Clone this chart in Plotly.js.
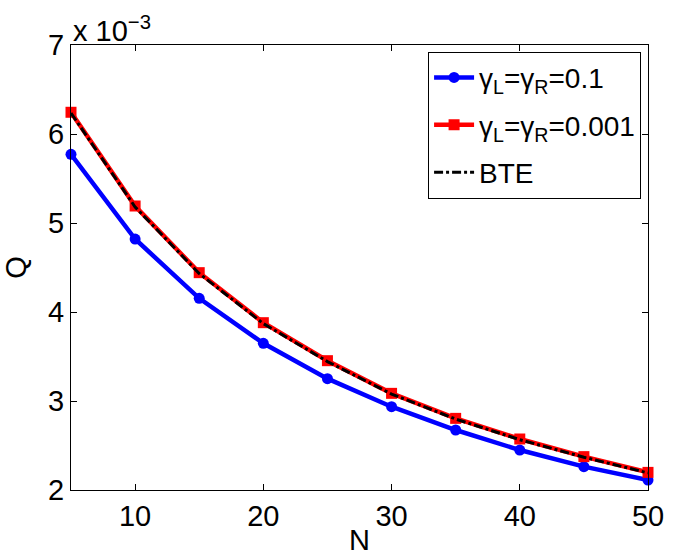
<!DOCTYPE html>
<html>
<head>
<meta charset="utf-8">
<script src="https://cdn.plot.ly/plotly-3.0.1.min.js"></script>
<style>body{margin:0;padding:0;background:#fff}#chart{width:688px;height:556px}</style>
</head>
<body>
<div id="chart"></div>
<script>
// N values
const N = [5, 10, 15, 20, 25, 30, 35, 40, 45, 50];
// Q values in units of 1e-3
const Q_gamma01 = [5.772, 4.820, 4.154, 3.648, 3.251, 2.936, 2.674, 2.449, 2.262, 2.112];
const Q_gamma0001 = [6.244, 5.191, 4.442, 3.880, 3.453, 3.086, 2.805, 2.573, 2.375, 2.198];
const Q_BTE = [6.235, 5.180, 4.432, 3.870, 3.443, 3.078, 2.797, 2.565, 2.368, 2.192];
const xTicks = [10, 20, 30, 40, 50];
const yTicks = [2, 3, 4, 5, 6, 7];

const font = "Liberation Sans, Arial, Helvetica, sans-serif";

const traces = [
  {x: N, y: Q_gamma01, mode: 'lines+markers', name: 'γ<sub>L</sub>=γ<sub>R</sub>=0.1', legendgroup: 'a',
   line: {color: '#0000ff', width: 4.5}, marker: {symbol: 'circle', size: 11, color: '#0000ff'}, cliponaxis: false},
  {x: N, y: Q_gamma0001, mode: 'lines+markers', name: 'γ<sub>L</sub>=γ<sub>R</sub>=0.001', legendgroup: 'b',
   line: {color: '#ff0000', width: 4.5}, marker: {symbol: 'square', size: 11, color: '#ff0000'}, cliponaxis: false},
  {x: N, y: Q_BTE, mode: 'lines', name: 'BTE', legendgroup: 'c',
   line: {color: '#000000', width: 3, dash: 'dashdot'}, cliponaxis: false}
];

const layout = {
  width: 688, height: 556,
  margin: {l: 71, r: 40, t: 45, b: 66},
  paper_bgcolor: '#fff', plot_bgcolor: '#fff',
  font: {family: font, size: 29, color: '#000'},
  showlegend: true,
  legend: {x: 0.988, y: 0.985, xanchor: 'right', yanchor: 'top',
    bgcolor: '#fff', bordercolor: '#000', borderwidth: 1,
    font: {family: font, size: 28, color: '#000'}, tracegroupgap: 8, itemwidth: 40},
  xaxis: {range: [5, 50], tickvals: xTicks, ticks: 'inside', ticklen: 6, tickcolor: '#000',
    showline: true, linecolor: '#000', linewidth: 1, mirror: 'ticks', showgrid: false, zeroline: false,
    tickfont: {family: font, size: 29}, title: {text: 'N', font: {family: font, size: 29}, standoff: 0}},
  yaxis: {range: [2, 7], tickvals: yTicks, ticks: 'inside', ticklen: 6, tickcolor: '#000',
    showline: true, linecolor: '#000', linewidth: 1, mirror: 'ticks', showgrid: false, zeroline: false,
    tickfont: {family: font, size: 29}, title: {text: 'Q', font: {family: font, size: 29}, standoff: 12}},
  annotations: [
    {xref: 'paper', yref: 'paper', x: 0, y: 1, xanchor: 'left', yanchor: 'bottom', yshift: -4, xshift: 0,
     text: 'x 10<sup>−3</sup>', showarrow: false, font: {family: font, size: 29, color: '#000'}}
  ]
};

Plotly.newPlot('chart', traces, layout, {displayModeBar: false, staticPlot: true});
</script>
</body>
</html>
